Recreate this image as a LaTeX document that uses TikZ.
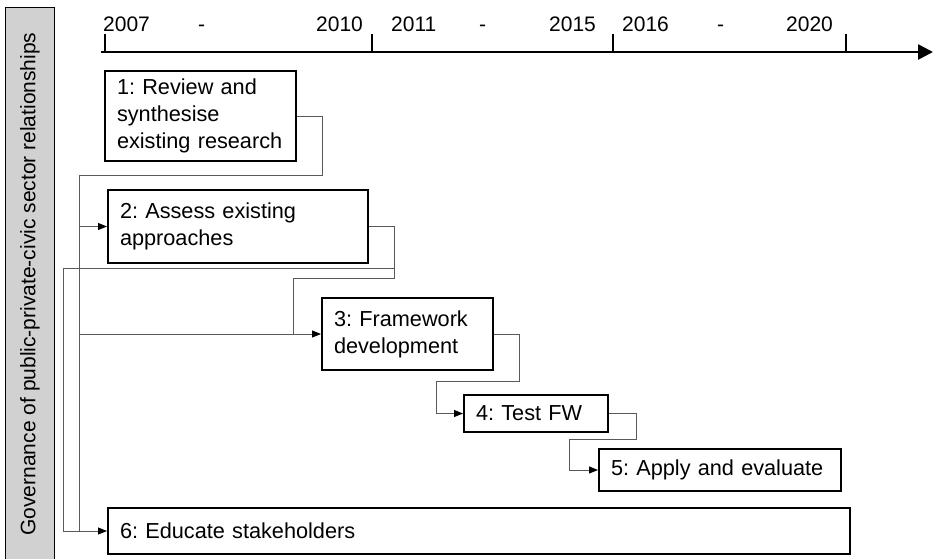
\documentclass[tikz,border=0pt]{standalone}
\usepackage{fontspec}
\setmainfont{Liberation Sans}
\usetikzlibrary{arrows.meta}
\frenchspacing
\begin{document}
\begin{tikzpicture}[x=1pt,y=-1pt,
  stagebox/.style={draw=black, line width=2pt, anchor=north west, inner xsep=12pt, inner ysep=0pt,
    align=left, font=\fontsize{21.7}{27}\selectfont},
  yearlbl/.style={anchor=base west, inner sep=0pt, font=\fontsize{21}{25}\selectfont},
  tickline/.style={line width=1.6pt, black},
  link/.style={draw=black!65, line width=1pt},
  linkarrow/.style={link, -{Triangle[length=9pt,width=7pt,black]}},
]
\useasboundingbox (0,0) rectangle (933,558);

% side label
\node[draw=black, fill=black!18, line width=1.3pt, anchor=north west,
      minimum width=49pt, minimum height=570pt, inner sep=0pt] (side) at (5,7) {};
\node[rotate=90, inner sep=0pt, font=\fontsize{21}{25}\selectfont] (sidetext) at (30,284)
  {Governance of public-private-civic sector relationships};

% timeline
\coordinate (axstart) at (101,52);
\coordinate (axend) at (933,52);
\draw[line width=2.6pt, -{Triangle[length=15pt,width=15pt]}] (axstart) -- (axend);
\coordinate (t1) at (105,52);
\coordinate (t2) at (372,52);
\coordinate (t3) at (613,52);
\coordinate (t4) at (846,52);
\foreach \t in {t1,t2,t3,t4} { \draw[tickline] (\t) -- ++(0,-18); }

\node[yearlbl] (y2007) at (103,31) {2007};
\node[yearlbl] (d1) at (198,31) {-};
\node[yearlbl] (y2010) at (316,31) {2010};
\node[yearlbl] (y2011) at (391,31) {2011};
\node[yearlbl] (d2) at (479,31) {-};
\node[yearlbl] (y2015) at (549,31) {2015};
\node[yearlbl] (y2016) at (622,31) {2016};
\node[yearlbl] (d3) at (717,31) {-};
\node[yearlbl] (y2020) at (786,31) {2020};

% stage boxes
\node[stagebox, minimum width=191pt, minimum height=90pt, text width=167pt] (b1) at (104,70)
  {1: Review and\\synthesise\\existing research};
\node[stagebox, minimum width=260pt, minimum height=73pt, text width=236pt] (b2) at (107,189)
  {2: Assess existing\\approaches};
\node[stagebox, minimum width=171pt, minimum height=72pt, text width=147pt] (b3) at (321,297)
  {3: Framework\\development};
\node[stagebox, minimum width=144pt, minimum height=37pt, text width=120pt] (b4) at (463,394)
  {4: Test FW};
\node[stagebox, minimum width=242pt, minimum height=42pt, text width=218pt] (b5) at (598,448)
  {5: Apply and evaluate};
\node[stagebox, minimum width=742pt, minimum height=46pt, text width=718pt] (b6) at (107,507)
  {6: Educate stakeholders};

% connectors
\coordinate (c1) at (322,175);
\coordinate (bus1) at (79,175);
\draw[link] (b1.east) -| (c1) -- (bus1) -- (bus1 |- b6.west);
\draw[linkarrow] (bus1 |- b2.west) -- (b2.west);
\draw[linkarrow] (bus1 |- b3.west) -- (b3.west);

\coordinate (c2) at (394,278);
\coordinate (c3) at (293,278);
\coordinate (c4) at (394,268);
\coordinate (bus2) at (63,268);
\draw[link] (b2.east) -| (c2) -- (c3) -- (c3 |- b3.west);
\draw[link] (c4) -- (bus2);
\draw[linkarrow] (bus2) |- (b6.west);

\coordinate (c5) at (519,381);
\coordinate (c6) at (436,381);
\draw[link] (b3.east) -| (c5) -- (c6);
\draw[linkarrow] (c6) |- (b4.west);

\coordinate (c7) at (636,439);
\coordinate (c8) at (569,439);
\draw[link] (b4.east) -| (c7) -- (c8);
\draw[linkarrow] (c8) |- (b5.west);
\end{tikzpicture}
\end{document}
